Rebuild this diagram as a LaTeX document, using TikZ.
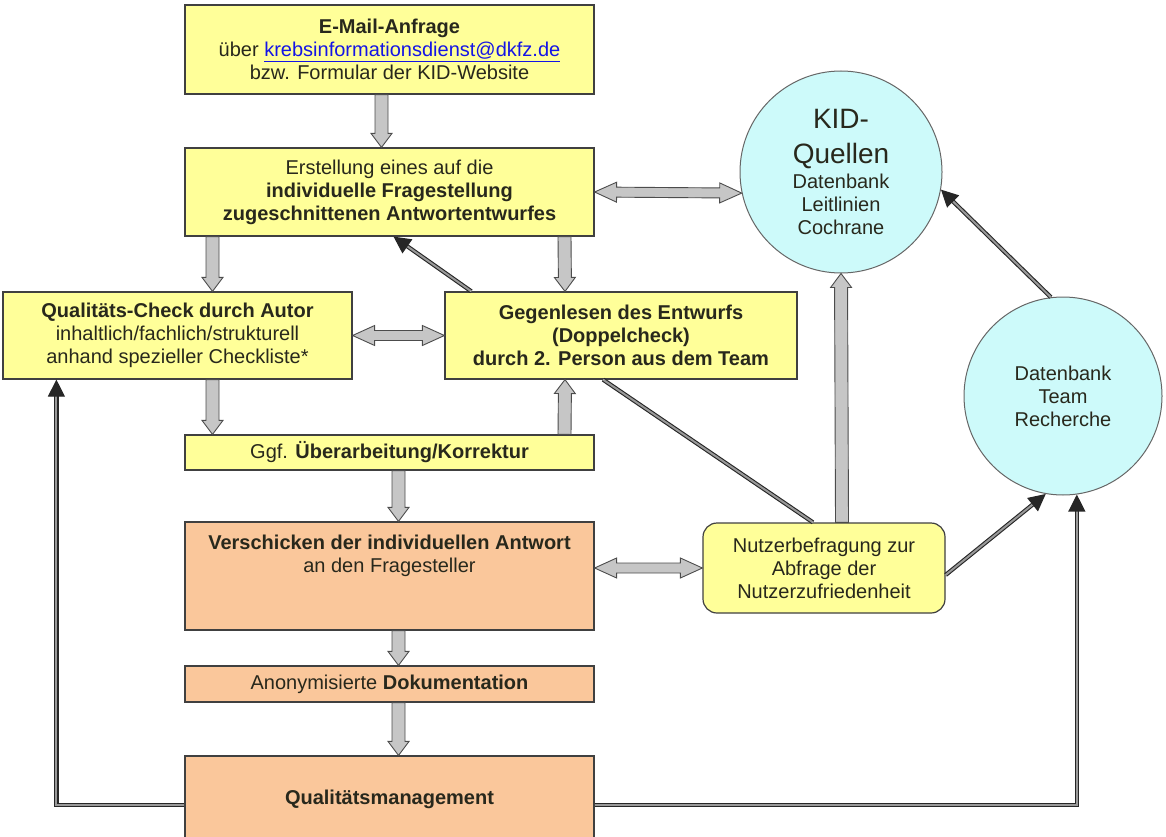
\documentclass[tikz,border=0pt]{standalone}
\usepackage{fontspec}
\setmainfont{Liberation Sans}
\usetikzlibrary{arrows.meta,calc,positioning}

\definecolor{boxyellow}{RGB}{255,255,153}
\definecolor{boxorange}{RGB}{250,199,155}
\definecolor{poolcyan}{RGB}{205,250,250}
\definecolor{inkdark}{RGB}{40,40,28}
\definecolor{linkblue}{RGB}{20,20,230}

\newcommand{\kidbig}{\fontsize{28}{33}\selectfont}

\begin{document}
\begin{tikzpicture}[x=1pt, y=-1pt,
    every node/.style={font=\fontsize{20}{23}\selectfont, text=inkdark},
    ybox/.style={draw=black!75, line width=1.2pt, fill=boxyellow, align=center, inner sep=0pt},
    obox/.style={ybox, fill=boxorange},
    pool/.style={circle, draw=black!60, line width=1pt, fill=poolcyan, align=center, inner sep=0pt},
    blockarrow/.style={draw=black!70, fill=gray!45, line width=0.9pt,
        to path={let \p1=(\tikztostart), \p2=(\tikztotarget),
            \n1={atan2((\y2)-(\y1),(\x2)-(\x1))} in
            ($(\p1)+(\n1+90:6.5pt)$) -- ($(\p2)+(\n1+180:14pt)+(\n1+90:6.5pt)$)
            -- ($(\p2)+(\n1+180:14pt)+(\n1+90:10.5pt)$) -- (\p2)
            -- ($(\p2)+(\n1+180:14pt)+(\n1-90:10.5pt)$) -- ($(\p2)+(\n1+180:14pt)+(\n1-90:6.5pt)$)
            -- ($(\p1)+(\n1-90:6.5pt)$) -- cycle}},
    bothways/.style={draw=black!70, fill=gray!45, line width=0.9pt,
        to path={let \p1=(\tikztostart), \p2=(\tikztotarget),
            \n1={atan2((\y2)-(\y1),(\x2)-(\x1))} in
            ($(\p1)+(\n1:22pt)+(\n1+90:5pt)$) -- ($(\p2)+(\n1+180:22pt)+(\n1+90:5pt)$)
            -- ($(\p2)+(\n1+180:22pt)+(\n1+90:10pt)$) -- (\p2)
            -- ($(\p2)+(\n1+180:22pt)+(\n1-90:10pt)$) -- ($(\p2)+(\n1+180:22pt)+(\n1-90:5pt)$)
            -- ($(\p1)+(\n1:22pt)+(\n1-90:5pt)$) -- ($(\p1)+(\n1:22pt)+(\n1-90:10pt)$)
            -- (\p1) -- ($(\p1)+(\n1:22pt)+(\n1+90:10pt)$) -- cycle}},
    link/.style={draw=black!85, double=gray!80, double distance=2pt, line width=1.1pt,
        -{Triangle[length=17pt, width=17pt]}}]

    \useasboundingbox (0,0) rectangle (1166,837);

    \node[ybox, minimum width=409, minimum height=89] (mail) at (389.5,49.5)
        {\textbf{E-Mail-Anfrage}\\ über \textcolor{linkblue}{\underline{krebsinformationsdienst@dkfz.de}}\\ bzw. Formular der KID-Website};
    \node[ybox, minimum width=409, minimum height=88] (draft) at (389.5,192)
        {Erstellung eines auf die\\ \textbf{individuelle Fragestellung}\\ \textbf{zugeschnittenen Antwortentwurfes}};
    \node[ybox, minimum width=349, minimum height=87] (check1) at (177.5,335.5)
        {\textbf{Qualitäts-Check durch Autor}\\ inhaltlich/fachlich/strukturell\\ anhand spezieller Checkliste*};
    \node[ybox, minimum width=352, minimum height=87] (check2) at (621,335.5)
        {\textbf{Gegenlesen des Entwurfs}\\ \textbf{(Doppelcheck)}\\ \textbf{durch 2. Person aus dem Team}};
    \node[ybox, minimum width=409, minimum height=35] (revise) at (389.5,452.5)
        {Ggf. \textbf{Überarbeitung/Korrektur}};
    \node[obox, minimum width=409, minimum height=108] (send) at (389.5,576) {};
    \node[anchor=north, align=center, inner sep=0pt] (sendtext) at ([yshift=-13]send.north)
        {\textbf{Verschicken der individuellen Antwort}\\ an den Fragesteller};
    \node[obox, minimum width=409, minimum height=36] (anon) at (389.5,684)
        {Anonymisierte \textbf{Dokumentation}};
    \node[obox, minimum width=409, minimum height=86] (qm) at (389.5,799)
        {\textbf{Qualitätsmanagement}};
    \node[ybox, rounded corners=14, minimum width=242, minimum height=90] (user) at (824,568)
        {Nutzerbefragung zur\\ Abfrage der\\ Nutzerzufriedenheit};
    \node[pool, minimum size=202] (kid) at (841,172)
        {\kidbig KID-\\[12pt] \kidbig Quellen\\[2pt] Datenbank\\ Leitlinien\\ Cochrane};
    \node[pool, minimum size=198] (dbteam) at (1063,396)
        {Datenbank\\ Team\\ Recherche};

    \draw[blockarrow] ([xshift=-8]mail.south) to ([xshift=-8]draft.north);
    \draw[blockarrow] ([xshift=-177]draft.south) to ([xshift=35]check1.north);
    \draw[blockarrow] ([xshift=175]draft.south) to ([xshift=-56]check2.north);
    \draw[blockarrow] ([xshift=35]check1.south) to ([xshift=-177]revise.north);
    \draw[blockarrow] ([xshift=175]revise.north) to ([xshift=-56]check2.south);
    \draw[blockarrow] ([xshift=9]revise.south) to ([xshift=9]send.north);
    \draw[blockarrow] ([xshift=9]send.south) to ([xshift=9]anon.north);
    \draw[blockarrow] ([xshift=9]anon.south) to ([xshift=9]qm.north);
    \draw[blockarrow] ([xshift=18]user.north) to (kid.south);

    \draw[bothways] (check1.east) to (check2.west);
    \draw[bothways] (draft.east) to (kid.192);
    \draw[bothways] (send.east |- user.west) to (user.west);

    \draw[link] ([xshift=27]check2.north west) -- ([xshift=4]draft.south);
    \draw[link, -] ([xshift=-18]check2.south) -- ([xshift=-11]user.north);
    \draw[link] ([yshift=-7]user.east) -- (dbteam.-100);
    \draw[link] (dbteam.97) -- (kid.-10);
    \draw[link] ([yshift=-6]qm.west) -| ([xshift=54]check1.south west);
    \draw[link] ([yshift=-6]qm.east) -| (dbteam.-82);
\end{tikzpicture}
\end{document}
